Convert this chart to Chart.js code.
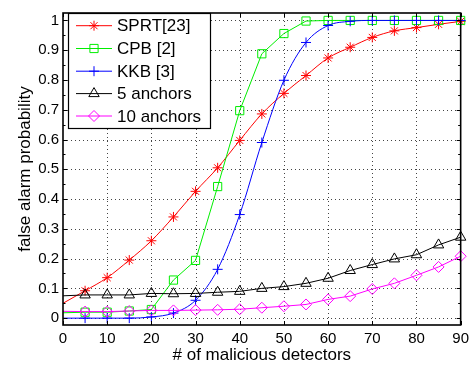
<!DOCTYPE html>
<html>
<head>
<meta charset="utf-8">
<script src="https://cdn.jsdelivr.net/npm/chart.js@4.4.1/dist/chart.umd.min.js"></script>
<style>
html,body{margin:0;padding:0;background:#fff;}
#wrap{width:474px;height:368px;}
</style>
</head>
<body>
<div id="wrap"><canvas id="c" width="474" height="368"></canvas></div>
<script>
// ---- data ----
const detectors = [0,5,10,15,20,25,30,35,40,45,50,55,60,65,70,75,80,85,90];
const sprt      = [0.050,0.092,0.136,0.195,0.260,0.340,0.426,0.505,0.597,0.686,0.755,0.815,0.874,0.910,0.943,0.965,0.976,0.987,0.997];
const cpb       = [0.018,0.020,0.020,0.024,0.029,0.128,0.194,0.442,0.697,0.888,0.956,0.998,1.000,1.000,1.000,1.000,1.000,1.000,1.000];
const kkb       = [0.000,0.000,0.000,0.000,0.004,0.017,0.060,0.164,0.348,0.590,0.799,0.926,0.983,0.997,1.000,1.000,1.000,1.000,1.000];
const anchors5  = [0.075,0.078,0.078,0.078,0.083,0.082,0.083,0.087,0.090,0.100,0.106,0.117,0.134,0.160,0.180,0.199,0.213,0.246,0.272];
const anchors10 = [0.023,0.022,0.022,0.024,0.026,0.026,0.027,0.028,0.030,0.035,0.040,0.046,0.063,0.074,0.098,0.117,0.144,0.172,0.208];
const seriesNames = ['SPRT[23]','CPB [2]','KKB [3]','5 anchors','10 anchors'];
const xTicks = [0,10,20,30,40,50,60,70,80,90];
const yTicks = [0,0.1,0.2,0.3,0.4,0.5,0.6,0.7,0.8,0.9,1];
const yTickLabels = ['0','0.1','0.2','0.3','0.4','0.5','0.6','0.7','0.8','0.9','1'];

const FONT = '"Liberation Sans", Arial, Helvetica, sans-serif';

function pts(vals){ return detectors.map((x,i)=>({x:x,y:vals[i]})); }

const styles = [
  {color:'#ff0000', pointStyle:'star',     radius:5,   smooth:true},
  {color:'#00ee00', pointStyle:'rect',     radius:5.8, smooth:false},
  {color:'#0000ff', pointStyle:'cross',    radius:5,   smooth:true},
  {color:'#000000', pointStyle:'triangle', radius:6,   smooth:false},
  {color:'#ff00ff', pointStyle:'rectRot',  radius:5.5, smooth:false}
];
const allVals = [sprt,cpb,kkb,anchors5,anchors10];

const datasets = allVals.map((v,i)=>({
  label: seriesNames[i],
  data: pts(v),
  borderColor: styles[i].color,
  backgroundColor: 'rgba(0,0,0,0)',
  pointBorderColor: styles[i].color,
  pointBackgroundColor: 'rgba(0,0,0,0)',
  pointStyle: styles[i].pointStyle,
  pointRadius: ctx => ctx.dataIndex === 0 ? 0 : styles[i].radius,
  pointBorderWidth: 1,
  borderWidth: 1,
  cubicInterpolationMode: styles[i].smooth ? 'monotone' : 'default',
  tension: 0,
  clip: false,
  order: 5 - i
}));

const matlabAxes = {
  id: 'matlabAxes',
  beforeDatasetsDraw(chart){
    const {ctx, chartArea:a, scales:{x,y}} = chart;
    ctx.save();
    ctx.strokeStyle = '#444';
    ctx.lineWidth = 1;
    ctx.setLineDash([1,3]);
    ctx.beginPath();
    xTicks.forEach(v=>{
      if (v<=0 || v>=90) return;
      const px = Math.round(x.getPixelForValue(v)) + 0.5;
      ctx.moveTo(px, a.top); ctx.lineTo(px, a.bottom);
    });
    yTicks.forEach(v=>{
      const py = Math.round(y.getPixelForValue(v)) + 0.5;
      ctx.moveTo(a.left, py); ctx.lineTo(a.right, py);
    });
    ctx.stroke();
    ctx.restore();
  },
  afterDatasetsDraw(chart){
    const {ctx, chartArea:a, scales:{x,y}} = chart;
    ctx.save();
    ctx.setLineDash([]);
    ctx.strokeStyle = '#000';
    ctx.lineWidth = 1;
    ctx.beginPath();
    // inward ticks
    xTicks.forEach(v=>{
      const px = Math.round(x.getPixelForValue(v)) + 0.5;
      ctx.moveTo(px, a.bottom); ctx.lineTo(px, a.bottom-4);
      ctx.moveTo(px, a.top); ctx.lineTo(px, a.top+4);
    });
    for (let k=0;k<=20;k++){
      const v = k*0.05;
      const len = (k%2===0) ? 4 : 2.5;
      const py = Math.round(y.getPixelForValue(v)) + 0.5;
      ctx.moveTo(a.left, py); ctx.lineTo(a.left+len, py);
      ctx.moveTo(a.right, py); ctx.lineTo(a.right-len, py);
    }
    ctx.stroke();
    // frame
    ctx.lineWidth = 1.6;
    ctx.strokeRect(a.left, a.top, a.right-a.left, a.bottom-a.top);

    // legend
    const bx=68, by=13, bw=142, bh=115;
    ctx.fillStyle='#fff';
    ctx.fillRect(bx,by,bw,bh);
    ctx.lineWidth=1.2;
    ctx.strokeStyle='#000';
    ctx.strokeRect(bx+0.5,by+0.5,bw,bh);
    const rows=[25.7,48.5,71.2,93.6,116];
    chart.data.datasets.forEach((ds,i)=>{
      const yy = rows[i];
      ctx.strokeStyle = ds.borderColor;
      ctx.lineWidth = 1;
      ctx.beginPath(); ctx.moveTo(76,yy); ctx.lineTo(112,yy); ctx.stroke();
      ctx.fillStyle = 'rgba(0,0,0,0)';
      ctx.strokeStyle = ds.borderColor;
      Chart.helpers.drawPoint(ctx, {pointStyle: styles[i].pointStyle, radius: styles[i].radius, rotation:0, borderWidth:1}, 94, yy);
      ctx.fillStyle='#000';
      ctx.font = '17px ' + FONT;
      ctx.textAlign='left'; ctx.textBaseline='middle';
      ctx.fillText(ds.label, 117, yy+1);
    });
    ctx.restore();
  }
};

new Chart(document.getElementById('c'), {
  type: 'line',
  data: { datasets },
  options: {
    responsive: false,
    animation: false,
    layout: { padding: { top: 7, right: 9, left: 0, bottom: 0 } },
    plugins: { legend: {display:false}, tooltip: {enabled:false} },
    elements: { line: { fill:false } },
    scales: {
      x: {
        type: 'linear', min: 0, max: 90,
        afterFit(s){ s.height = 43; },
        afterBuildTicks(s){ s.ticks = xTicks.map(v=>({value:v})); },
        grid: { display:false, drawTicks:false },
        border: { display:false },
        ticks: { color:'#000', padding: 5, maxRotation:0, autoSkip:false,
                 font:{family:FONT, size:15} },
        title: { display:true, text:'# of malicious detectors', color:'#000',
                 font:{family:FONT, size:17}, padding:{top:0,bottom:2} }
      },
      y: {
        type: 'linear', min: -0.023, max: 1.025,
        afterFit(s){ s.width = 63; },
        afterBuildTicks(s){ s.ticks = yTicks.map(v=>({value:v})); },
        grid: { display:false, drawTicks:false },
        border: { display:false },
        ticks: { color:'#000', padding: 4, autoSkip:false,
                 font:{family:FONT, size:15},
                 callback: (v)=>{ const i = yTicks.findIndex(t=>Math.abs(t-v)<1e-9); return i>=0 ? yTickLabels[i] : ''; } },
        title: { display:true, text:'false alarm probability', color:'#000',
                 font:{family:FONT, size:17}, padding:{top:15,bottom:0} }
      }
    }
  },
  plugins: [matlabAxes]
});
</script>
</body>
</html>
